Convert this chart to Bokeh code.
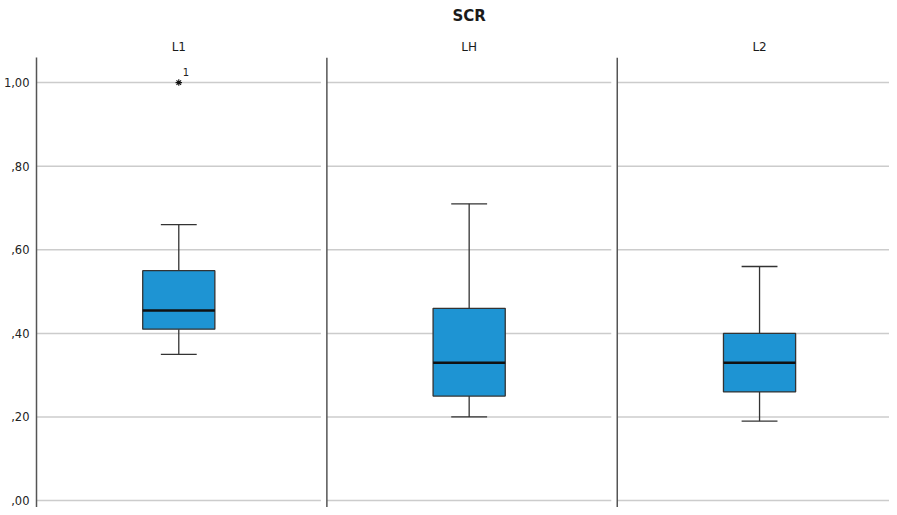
from bokeh.plotting import figure
from bokeh.models import Range1d, FixedTicker, LinearAxis, Span, Spacer
from bokeh.layouts import column
from bokeh.embed import file_html
from bokeh.resources import INLINE
from bokeh.core.properties import value

# ---- data ----
title_text = "SCR"
groups = ["L1", "LH", "L2"]
whisker_low = [0.35, 0.20, 0.19]
q1 = [0.41, 0.25, 0.26]
median = [0.455, 0.33, 0.33]
q3 = [0.55, 0.46, 0.40]
whisker_high = [0.66, 0.71, 0.56]
outlier_group = ["L1"]
outlier_value = [1.00]
outlier_label = ["1"]
y_ticks = [0.0, 0.2, 0.4, 0.6, 0.8, 1.0]
y_tick_labels = [",00", ",20", ",40", ",60", ",80", "1,00"]

# ---- layout ----
FONT = "DejaVu Sans"
TOP_PAD = 3
W, H = 889, 504
BORDER_LEFT, BORDER_TOP = 33, 49
PX_PER_UNIT = 291.4
FRAME_W = W - BORDER_LEFT
x_start = -0.49
x_end = x_start + FRAME_W / PX_PER_UNIT
box_half = 36.2 / PX_PER_UNIT
cap_half = 18 / PX_PER_UNIT
grid_gap = 6 / PX_PER_UNIT

xs = list(range(len(groups)))
title_x = (xs[0] + xs[-1]) / 2

p = figure(width=W, height=H, output_backend="svg", toolbar_location=None,
           title=None,
           x_range=Range1d(x_start, x_end), y_range=Range1d(-0.0166, 1.0601),
           x_axis_location=None, min_border_left=BORDER_LEFT, min_border_right=0,
           min_border_bottom=0, min_border_top=BORDER_TOP)
p.outline_line_color = None
p.xgrid.visible = False
p.ygrid.visible = False
p.background_fill_color = "white"


def header_axis(ticks, labels, size, style, standoff):
    ax = LinearAxis(ticker=FixedTicker(ticks=ticks),
                    major_label_overrides={t: s for t, s in zip(ticks, labels)})
    ax.axis_line_color = None
    ax.major_tick_in = 0
    ax.major_tick_out = 0
    ax.minor_tick_in = 0
    ax.minor_tick_out = 0
    ax.major_label_standoff = standoff
    ax.major_label_text_font = FONT
    ax.major_label_text_font_size = size
    ax.major_label_text_font_style = style
    ax.major_label_text_color = "#1a1a1a"
    return ax


# panel headers (closest to the frame), then the chart title above them
p.add_layout(header_axis(xs, groups, "12px", "normal", 4), "above")
p.add_layout(header_axis([title_x], [title_text], "15px", "bold", 12), "above")

# y axis
yax = p.yaxis[0]
yax.ticker = FixedTicker(ticks=y_ticks)
yax.major_label_overrides = dict(zip(y_ticks, y_tick_labels))
yax.major_tick_in = 0
yax.major_tick_out = 0
yax.minor_tick_in = 0
yax.minor_tick_out = 0
yax.major_label_standoff = 7
yax.major_label_text_font = FONT
yax.major_label_text_font_size = "11.5px"
yax.major_label_text_color = "#222222"
yax.axis_line_color = "#555555"
yax.axis_line_width = 1.5

# gridlines per panel
gx0, gx1, gy = [], [], []
for i in xs:
    left = i + x_start
    right = min(i + x_start + 1 - grid_gap, x_end)
    for t in y_ticks:
        gx0.append(left)
        gx1.append(right)
        gy.append(t)
p.segment(x0=gx0, x1=gx1, y0=gy, y1=gy, line_color="#cccccc", line_width=1.5)

# panel separators
for i in xs[1:]:
    p.add_layout(Span(location=i + x_start, dimension="height",
                      line_color="#555555", line_width=1.5))

# whiskers
p.segment(x0=xs, x1=xs, y0=q3, y1=whisker_high, line_color="#333333", line_width=1.3)
p.segment(x0=xs, x1=xs, y0=whisker_low, y1=q1, line_color="#333333", line_width=1.3)
p.segment(x0=[x - cap_half for x in xs], x1=[x + cap_half for x in xs],
          y0=whisker_high, y1=whisker_high, line_color="#333333", line_width=1.3)
p.segment(x0=[x - cap_half for x in xs], x1=[x + cap_half for x in xs],
          y0=whisker_low, y1=whisker_low, line_color="#333333", line_width=1.3)

# boxes
p.quad(left=[x - box_half for x in xs], right=[x + box_half for x in xs],
       bottom=q1, top=q3, fill_color="#1e94d3", line_color="#333333", line_width=1.3)
p.segment(x0=[x - box_half for x in xs], x1=[x + box_half for x in xs],
          y0=median, y1=median, line_color="#111111", line_width=2.5)

# outliers
ox = [xs[groups.index(g)] for g in outlier_group]
p.scatter(x=ox, y=outlier_value, marker="asterisk", size=6.5, line_color="#111111",
          line_width=1.1)
p.text(x=ox, y=outlier_value, text=outlier_label, x_offset=4, y_offset=-11,
       text_font=value(FONT), text_font_size="10px", text_baseline="middle",
       text_align="left", text_color="#222222")

layout = column(Spacer(width=W, height=TOP_PAD), p, spacing=0)

open("out.html", "w").write(file_html(layout, INLINE))
